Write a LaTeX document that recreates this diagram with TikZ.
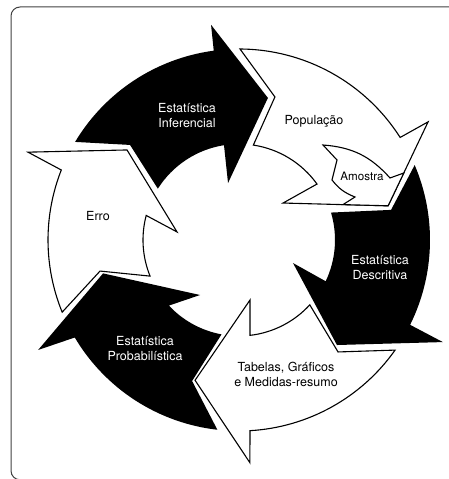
\documentclass[tikz,border=0pt]{standalone}
\usepackage{fontspec}
\setmainfont{TeX Gyre Heros}
\newcommand{\ringout}{191}
\newcommand{\ringin}{96}

\begin{document}
\begin{tikzpicture}[x=1pt, y=1pt,
        frame/.style={draw=black!75, line width=1pt, rounded corners=9pt},
        darkarrow/.style={fill=black},
        lightarrow/.style={draw=black, fill=white, line width=1.1pt, line join=miter},
        lbl/.style={font=\fontsize{12.5}{15}\selectfont, align=center, inner sep=0pt},
        darklbl/.style={lbl, text=white},
        smalllbl/.style={lbl, font=\fontsize{11.6}{13}\selectfont}
    ]
        \useasboundingbox (0,0) rectangle (449,479);
        \clip (0,0) rectangle (449,479);
        \draw [frame] (11,-0.8) rectangle (470,472);

        \begin{scope}[shift={(239,239)}]
        % Ring arrows, clockwise from the top left
        \path [darkarrow] (149.1:\ringout) arc[start angle=149.1, end angle=97.6, radius=\ringout]
            -- (97.4:217) -- (78.5:145) -- (100.9:58) -- (99.0:\ringin)
            arc[start angle=99.0, end angle=147.7, radius=\ringin] -- (138.9:144.6) -- cycle;
        \path [lightarrow] (89.7:\ringout) arc[start angle=89.7, end angle=32.47, radius=\ringout]
            -- (32:223) -- (12.9:153) -- (40:57.5) -- (35.65:\ringin)
            arc[start angle=35.65, end angle=81.4, radius=\ringin] -- (75.9:147.5) -- cycle;
        \path [darkarrow] (23.1:\ringout) arc[start angle=23.1, end angle=-26.37, radius=\ringout]
            -- (-26.6:228) -- (-47:143.6) -- (-23.1:58.7) -- (-25.46:\ringin)
            arc[start angle=-25.46, end angle=16.6, radius=\ringin] -- (11.2:155) -- cycle;
        \path [lightarrow] (-35.2:\ringout) arc[start angle=-35.2, end angle=-86.7, radius=\ringout]
            -- (-87.2:223) -- (-107.4:147) -- (-79.6:61) -- (-83.4:\ringin)
            arc[start angle=-83.4, end angle=-42.5, radius=\ringin] -- (-48.5:149.5) -- cycle;
        \path [darkarrow] (263.5:\ringout) arc[start angle=263.5, end angle=210.7, radius=\ringout]
            -- (208.7:229) -- (193.8:140) -- (234.7:67.4) -- (223.1:\ringin)
            arc[start angle=223.1, end angle=259.5, radius=\ringin] -- (251.6:148.6) -- cycle;
        \path [lightarrow] (202.2:\ringout) arc[start angle=202.2, end angle=158.5, radius=\ringout]
            -- (157.4:228.6) -- (141.2:143.7) -- (172.6:62.5) -- (165.18:\ringin)
            arc[start angle=165.18, end angle=202.1, radius=\ringin] -- (192.6:142.4) -- cycle;

        % Small arrow inside the head of Populacao
        \path [lightarrow] (84,95) to[bend left=22] (151,62) -- (164.8,67) -- (149.1,34.2)
            -- (104,35.4) -- (116,43) to[bend left=15] (93,60) -- (98,80) -- cycle;

        % Labels
        \node [darklbl] (inferencial) at (-52,124) {Estatística\\Inferencial};
        \node [lbl] (populacao) at (75,119) {População};
        \node [smalllbl] (amostra) at (123,63.5) {Amostra};
        \node [darklbl] (descritiva) at (141,-28) {Estatística\\Descritiva};
        \node [lbl] (tabelas) at (47,-134) {Tabelas, Gráficos\\e Medidas-resumo};
        \node [darklbl] (probabilistica) at (-94,-109) {Estatística\\Probabilística};
        \node [lbl] (erro) at (-141,24) {Erro};
        \end{scope}
    \end{tikzpicture}
\end{document}
